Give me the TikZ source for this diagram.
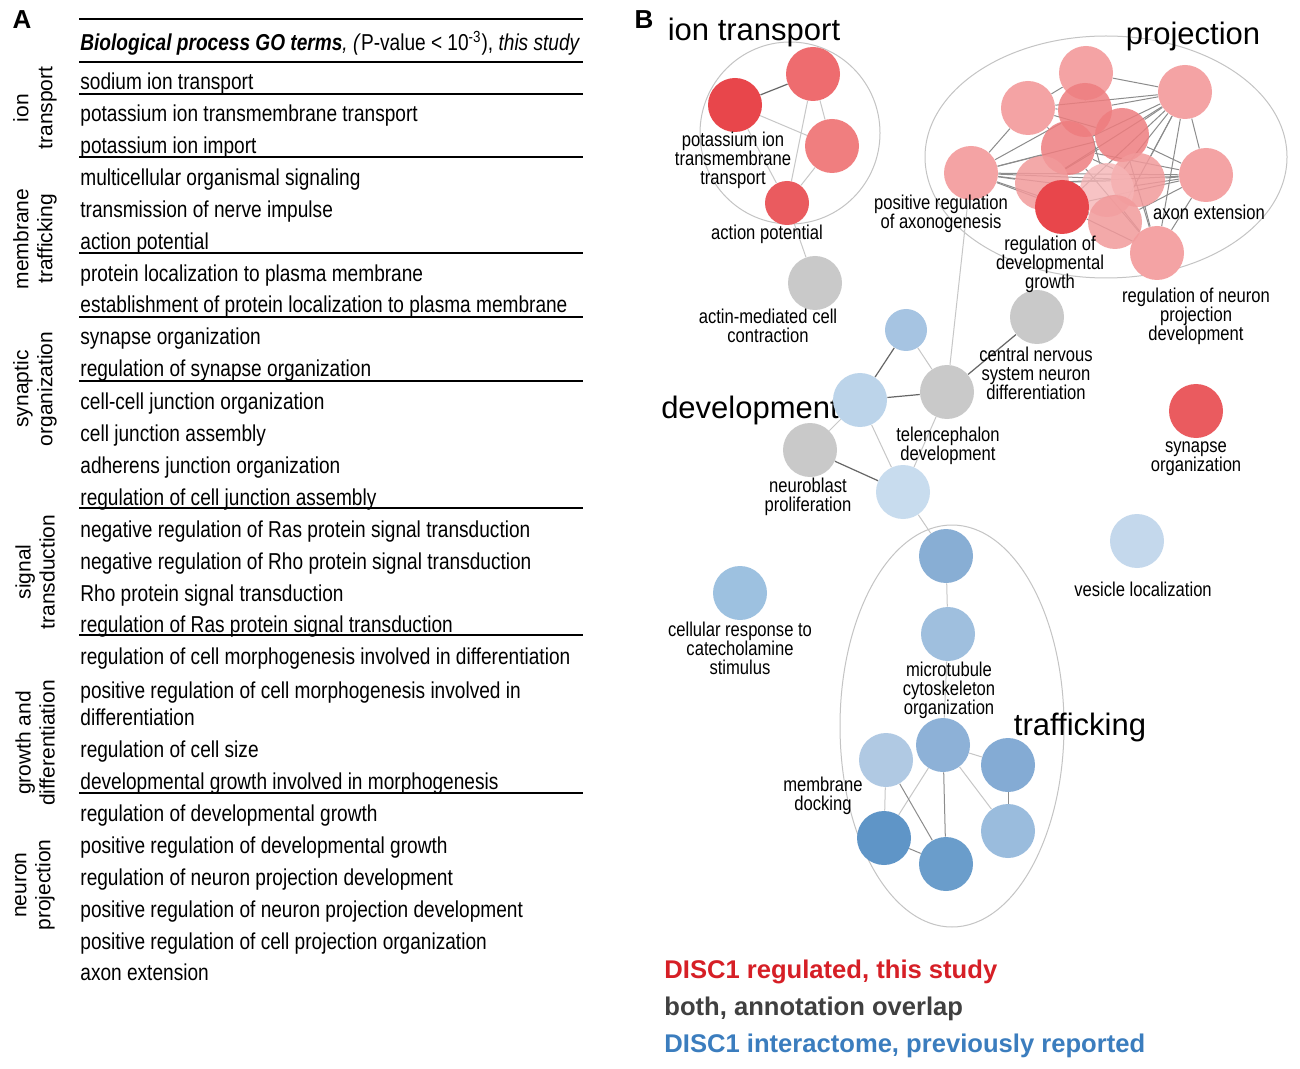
\documentclass[tikz,border=0pt]{standalone}
\usepackage{fontspec}
\setmainfont{Liberation Sans}
\newfontfamily\narrow{Liberation Sans}[FakeStretch=0.83]
\usetikzlibrary{backgrounds}
\definecolor{rA}{HTML}{E8464B}
\definecolor{rB}{HTML}{EE6C6F}
\definecolor{rC}{HTML}{F07E7F}
\definecolor{rD}{HTML}{EA5B5F}
\definecolor{pL}{HTML}{F4A3A4}
\definecolor{pM}{HTML}{EE7D7F}
\definecolor{pN}{HTML}{F29A9B}
\definecolor{pV}{HTML}{F6B5B6}
\definecolor{gN}{HTML}{C9C9C9}
\definecolor{bA}{HTML}{A6C4E2}
\definecolor{bB}{HTML}{BCD4EA}
\definecolor{bC}{HTML}{C8DCEE}
\definecolor{bD}{HTML}{C4D8EC}
\definecolor{bE}{HTML}{9DC1E0}
\definecolor{t1c}{HTML}{88AED4}
\definecolor{t2c}{HTML}{9FBFDE}
\definecolor{t3c}{HTML}{8DB1D7}
\definecolor{t4c}{HTML}{B0C9E3}
\definecolor{t5c}{HTML}{84ABD4}
\definecolor{t6c}{HTML}{5F95C7}
\definecolor{t7c}{HTML}{6A9DCB}
\definecolor{t8c}{HTML}{9ABCDD}
\definecolor{legR}{HTML}{D61F26}
\definecolor{legG}{HTML}{404040}
\definecolor{legB}{HTML}{3B7DBE}
\definecolor{ellc}{HTML}{C4C4C4}
\begin{document}
\begin{tikzpicture}[x=0.5pt,y=-0.5pt,
  tbl/.style={anchor=base west,inner sep=0pt,font=\narrow\fontsize{11.5}{13}\selectfont},
  side/.style={rotate=90,align=center,inner sep=0pt,font=\fontsize{10.5}{12}\selectfont},
  lbl/.style={align=center,inner sep=0pt,font=\narrow\fontsize{10}{9.5}\selectfont},
  ttl/.style={anchor=base,inner sep=0pt,font=\fontsize{15.5}{18}\selectfont},
  panel/.style={inner sep=0pt,font=\bfseries\fontsize{13}{15}\selectfont},
  leg/.style={anchor=base west,inner sep=0pt,font=\bfseries\fontsize{12.8}{15}\selectfont},
  go/.style={circle,inner sep=0pt,minimum size=27pt,draw=none},
  thick rule/.style={line width=1.25pt},
  thin rule/.style={line width=0.7pt},
  eD/.style={draw=black!60,line width=0.6pt},
  eM/.style={draw=black!45,line width=0.5pt},
  eL/.style={draw=black!22,line width=0.5pt},
  ell/.style={draw=ellc,line width=0.5pt}
]
\useasboundingbox (0,0) rectangle (1300,1069);

% ---------------- Panel A ----------------
\node[panel] (A) at (22,20) {A};
\draw[thick rule] (79,19) -- (583,19);
\draw[thick rule] (79,62) -- (583,62);
\node[tbl] (head) at (80,51) {\textbf{\textit{Biological process GO terms}}\textit{, (}P-value < 10\textsuperscript{-3}), \textit{this study}};
\foreach \yy in {94,157,253,317,381,508,635,793}
  \draw[thin rule] (79,\yy) -- (583,\yy);
\foreach \yy/\txt [count=\i] in {
  90/sodium ion transport,
  122/potassium ion transmembrane transport,
  154/potassium ion import,
  186/multicellular organismal signaling,
  218/transmission of nerve impulse,
  250/action potential,
  282/protein localization to plasma membrane,
  313/establishment of protein localization to plasma membrane,
  345/synapse organization,
  377/regulation of synapse organization,
  409/cell-cell junction organization,
  441/cell junction assembly,
  473/adherens junction organization,
  505/regulation of cell junction assembly,
  537/negative regulation of Ras protein signal transduction,
  569/negative regulation of Rho protein signal transduction,
  601/Rho protein signal transduction,
  632/regulation of Ras protein signal transduction,
  664/regulation of cell morphogenesis involved in differentiation,
  698/positive regulation of cell morphogenesis involved in,
  725/differentiation,
  757/regulation of cell size,
  789/developmental growth involved in morphogenesis,
  821/regulation of developmental growth,
  853/positive regulation of developmental growth,
  885/regulation of neuron projection development,
  917/positive regulation of neuron projection development,
  949/positive regulation of cell projection organization,
  980/axon extension}
  \node[tbl] (row\i) at (80,\yy) {\txt};

\node[side] (s1) at (35,108) {ion\\transport};
\node[side] (s2) at (35,239) {membrane\\trafficking};
\node[side] (s3) at (35,389) {synaptic\\organization};
\node[side] (s4) at (35,572) {signal\\transduction};
\node[side] (s5) at (35,743) {growth and\\differentiation};
\node[side] (s6) at (35,885) {neuron\\projection};

% ---------------- Panel B ----------------
\node[panel] (B) at (644,20) {B};
\node[ttl] (tIon) at (754,41) {ion transport};
\node[ttl] (tProj) at (1193,45) {projection};
\node[ttl] (tDev) at (750,418) {development};
\node[ttl] (tTraf) at (1080,735) {trafficking};

% ion transport nodes
\node[go,fill=rA] (n1) at (735,105) {};
\node[go,fill=rB] (n2) at (813,74) {};
\node[go,fill=rC] (n3) at (832,146) {};
\node[go,fill=rD,minimum size=22pt] (n4) at (787,203) {};
\node[go,fill=gN] (actin) at (815,283) {};

% projection nodes
\node[go,fill=pL] (p1) at (1086,73) {};
\node[go,fill=pL] (p2) at (1028,108) {};
\node[go,fill=pL] (p3) at (1185,92) {};
\node[go,fill=pL] (p7) at (971,173) {};
\node[go,fill=pL] (p8) at (1206,175) {};
\node[go,fill=pL] (p14) at (1157,253) {};
\node[go,fill=pM,fill opacity=0.85] (p4) at (1085,110) {};
\node[go,fill=pM,fill opacity=0.85] (p5) at (1122,135) {};
\node[go,fill=pM,fill opacity=0.85] (p6) at (1068,148) {};
\node[go,fill=pN,fill opacity=0.85] (p9) at (1042,183) {};
\node[go,fill=pN,fill opacity=0.85] (p10) at (1138,180) {};
\node[go,fill=pV,fill opacity=0.8] (p11) at (1107,190) {};
\node[go,fill=rA] (p12) at (1062,207) {};
\node[go,fill=pN,fill opacity=0.85] (p13) at (1115,222) {};

% development nodes
\node[go,fill=gN] (cns) at (1037,317) {};
\node[go,fill=bA,minimum size=21pt] (dTop) at (906,330) {};
\node[go,fill=bB] (dLeft) at (860,400) {};
\node[go,fill=gN] (tel) at (947,392) {};
\node[go,fill=gN] (nbl) at (810,450) {};
\node[go,fill=bC] (dBot) at (903,492) {};

% singletons
\node[go,fill=rD] (syn) at (1196,411) {};
\node[go,fill=bD] (ves) at (1137,541) {};
\node[go,fill=bE] (cat) at (740,593) {};

% trafficking nodes
\node[go,fill=t1c] (t1) at (946,556) {};
\node[go,fill=t2c] (t2) at (948,634) {};
\node[go,fill=t3c] (t3) at (943,745) {};
\node[go,fill=t4c] (t4) at (886,760) {};
\node[go,fill=t5c] (t5) at (1008,765) {};
\node[go,fill=t6c] (t6) at (884,838) {};
\node[go,fill=t7c] (t7) at (946,864) {};
\node[go,fill=t8c] (t8) at (1008,831) {};

% labels
\node[lbl] (lPot) at (733,160) {potassium ion\\transmembrane\\transport};
\node[lbl] (lAct) at (767,234) {action potential};
\node[lbl] (lActin) at (768,326) {actin-mediated cell\\contraction};
\node[lbl] (lAxo) at (941,214) {positive regulation\\of axonogenesis};
\node[lbl] (lAxE) at (1209,212) {axon extension};
\node[lbl] (lRdg) at (1050,264) {regulation of\\developmental\\growth};
\node[lbl] (lRnp) at (1196,316) {regulation of neuron\\projection\\development};
\node[lbl] (lCns) at (1036,373) {central nervous\\system neuron\\differentiation};
\node[lbl] (lTel) at (948,446) {telencephalon\\development};
\node[lbl] (lNbl) at (808,497) {neuroblast\\proliferation};
\node[lbl] (lSyn) at (1196,459) {synapse\\organization};
\node[lbl] (lVes) at (1143,589) {vesicle localization};
\node[lbl] (lCat) at (740,648) {cellular response to\\catecholamine\\stimulus};
\node[lbl] (lMic) at (949,690) {microtubule\\cytoskeleton\\organization};
\node[lbl] (lMem) at (823,796) {membrane\\docking};

% legend
\node[leg,text=legR] (g1) at (664,978) {DISC1 regulated, this study};
\node[leg,text=legG] (g2) at (664,1015) {both, annotation overlap};
\node[leg,text=legB] (g3) at (664,1052) {DISC1 interactome, previously reported};

\begin{pgfonlayer}{background}
  \fill[white] (0,0) rectangle (1300,1069);
  % cluster outlines
  \draw[ell] (790,133) ellipse [x radius=45pt, y radius=45.5pt];
  \draw[ell] (1106,157) ellipse [x radius=90.5pt, y radius=60.5pt];
  \draw[ell] (952,726) ellipse [x radius=56pt, y radius=100.5pt];
  % ion transport edges
  \draw[eD] (n1) -- (n2);
  \foreach \a/\b in {n1/n3,n2/n3,n2/n4,n3/n4,n1/n4,n4/actin}
    \draw[eL] (\a) -- (\b);
  % projection edges
  \foreach \a/\b in {p7/p2,p7/p4,p7/p5,p7/p6,p7/p9,p7/p10,p7/p11,p7/p12,p7/p13,p7/p8,
    p3/p1,p3/p4,p3/p5,p3/p6,p3/p9,p3/p10,p3/p11,p3/p12,p3/p13,p3/p14,p3/p8,p3/p2,
    p8/p5,p8/p6,p8/p9,p8/p10,p8/p11,p8/p12,p8/p13,p8/p14,
    p1/p4,p1/p2,p2/p4,p2/p6,p2/p5,p14/p5,p14/p10,p14/p11,p14/p12,p14/p6,
    p12/p13,p9/p10,p6/p10,p4/p11,p5/p9}
    \draw[eM] (\a) -- (\b);
  \draw[eL] (p7) -- (tel);
  % development edges
  \foreach \a/\b in {dTop/dLeft,dLeft/tel,nbl/dBot,tel/cns}
    \draw[eD] (\a) -- (\b);
  \foreach \a/\b in {dTop/tel,dLeft/nbl,dLeft/dBot,tel/dBot,dBot/t1}
    \draw[eL] (\a) -- (\b);
  % trafficking edges
  \foreach \a/\b in {t1/t2,t2/t3,t3/t5,t4/t6,t3/t6,t3/t8}
    \draw[eL] (\a) -- (\b);
  \foreach \a/\b in {t4/t7,t3/t7,t5/t8,t6/t7}
    \draw[eM] (\a) -- (\b);
\end{pgfonlayer}
\end{tikzpicture}
\end{document}
